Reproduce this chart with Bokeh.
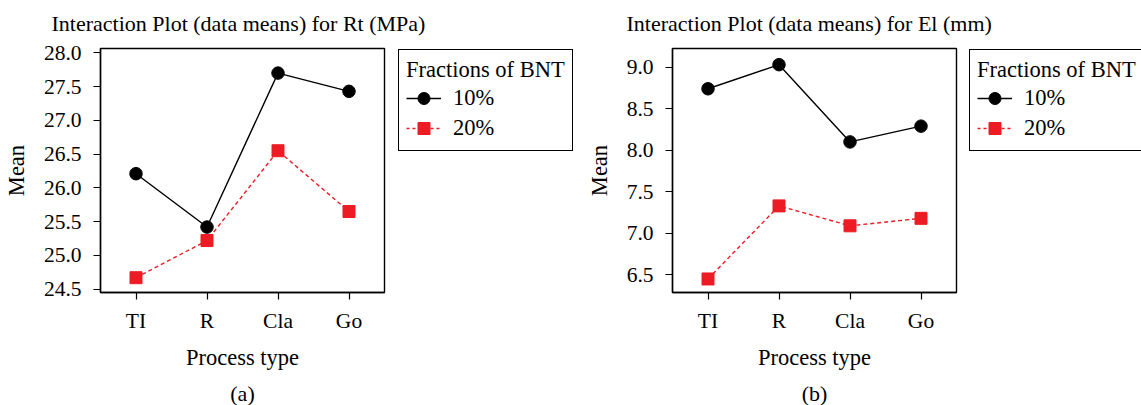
from bokeh.plotting import figure
from bokeh.layouts import row, column
from bokeh.models import (FactorRange, Range1d, FixedTicker, NumeralTickFormatter,
                          Legend, LegendItem, Label)
from bokeh.embed import file_html
from bokeh.resources import INLINE

# ---------------- data ----------------
process_types = ["TI", "R", "Cla", "Go"]
series_names = ["10%", "20%"]
legend_title = "Fractions of BNT"

rt_10 = [26.21, 25.42, 27.70, 27.43]
rt_20 = [24.67, 25.22, 26.55, 25.65]
el_10 = [8.74, 9.03, 8.10, 8.29]
el_20 = [6.45, 7.33, 7.09, 7.18]

rt_ticks = [24.5, 25.0, 25.5, 26.0, 26.5, 27.0, 27.5, 28.0]
el_ticks = [6.5, 7.0, 7.5, 8.0, 8.5, 9.0]

rt_title = "Interaction Plot (data means) for Rt (MPa)"
el_title = "Interaction Plot (data means) for El (mm)"
x_label = "Process type"
y_label = "Mean"
captions = ["(a)", "(b)"]

# ---------------- style ----------------
FONT = "Liberation Serif"
RED = "#ED1C24"
FRAME_W = 284
FRAME_H = 244
TITLE_H = 38
MID_H = 340
CAP_H = 405 - TITLE_H - MID_H
TXT = "22px"
LEG_TXT = "22.5px"


def blank_fig(width, height, top=0):
    f = figure(width=width, height=height, x_range=Range1d(0, 1), y_range=Range1d(0, 1),
               output_backend="svg", toolbar_location=None,
               min_border_left=0, min_border_right=0,
               min_border_top=top, min_border_bottom=0)
    f.axis.visible = False
    f.grid.visible = False
    f.outline_line_color = None
    f.background_fill_color = "white"
    f.border_fill_color = "white"
    return f


def text_fig(text, width, height, x, y, align):
    f = blank_fig(width, height)
    f.add_layout(Label(x=x, y=y, x_units="screen", y_units="screen", text=text,
                       text_align=align, text_baseline="alphabetic",
                       text_font=FONT, text_font_size=TXT, text_color="black"))
    return f


def make_chart(title, caption, s10, s20, ticks, yr, total_w, left, title_x, gap):
    main_w = left + FRAME_W + gap
    p = figure(width=main_w, height=MID_H,
               x_range=FactorRange(factors=process_types),
               y_range=Range1d(*yr),
               output_backend="svg", toolbar_location=None,
               min_border_left=left, min_border_right=gap,
               min_border_top=48 - TITLE_H, min_border_bottom=MID_H - (48 - TITLE_H) - FRAME_H)
    p.background_fill_color = "white"
    p.border_fill_color = "white"
    p.outline_line_color = "black"
    p.outline_line_width = 1.4
    p.xgrid.grid_line_color = None
    p.ygrid.grid_line_color = None

    for ax in (p.xaxis[0], p.yaxis[0]):
        ax.axis_line_color = "black"
        ax.axis_line_width = 1.4
        ax.major_tick_line_color = "black"
        ax.major_tick_line_width = 1.2
        ax.major_tick_out = 7
        ax.major_tick_in = 0
        ax.minor_tick_line_color = None
        ax.major_label_text_font = FONT
        ax.major_label_text_font_size = "21.5px"
        ax.major_label_text_color = "black"
        ax.axis_label_text_font = FONT
        ax.axis_label_text_font_size = "22.5px"
        ax.axis_label_text_font_style = "normal"
        ax.axis_label_text_color = "black"

    p.xaxis.axis_label = x_label
    p.xaxis.major_label_standoff = 9
    p.xaxis.axis_label_standoff = 9
    p.yaxis.axis_label = y_label
    p.yaxis.ticker = FixedTicker(ticks=ticks)
    p.yaxis.formatter = NumeralTickFormatter(format="0.0")
    p.yaxis.major_label_standoff = 12
    p.yaxis.axis_label_standoff = 12

    p.line(x=process_types, y=s10, line_color="black", line_width=1.4)
    p.scatter(x=process_types, y=s10, marker="circle", size=12.5,
              fill_color="black", line_color="black")
    p.line(x=process_types, y=s20, line_color=RED, line_width=1.4, line_dash="4 3")
    p.scatter(x=process_types, y=s20, marker="square", size=12,
              fill_color=RED, line_color=RED)

    # legend on its own canvas (series drawn out of view, only their keys show)
    lf = blank_fig(total_w - main_w, MID_H, top=48 - TITLE_H - 1)
    k1 = lf.line(x=s10, y=s10, line_color="black", line_width=1.4)
    k1m = lf.scatter(x=s10, y=s10, marker="circle", size=12.5, fill_color="black", line_color="black")
    k2 = lf.line(x=s20, y=s20, line_color=RED, line_width=1.4, line_dash="3 3")
    k2m = lf.scatter(x=s20, y=s20, marker="square", size=12, fill_color=RED, line_color=RED)
    legend = Legend(items=[LegendItem(label=series_names[0], renderers=[k1, k1m]),
                           LegendItem(label=series_names[1], renderers=[k2, k2m])],
                    title=legend_title, location="top_left",
                    padding=7, spacing=0, margin=1,
                    glyph_width=35, glyph_height=30, label_height=20,
                    label_standoff=12, title_standoff=0,
                    border_line_color="black", border_line_width=1.4, border_line_alpha=1.0,
                    background_fill_color="white", background_fill_alpha=1.0,
                    label_text_font=FONT, label_text_font_size=LEG_TXT,
                    label_text_color="black",
                    title_text_font=FONT, title_text_font_size=LEG_TXT,
                    title_text_font_style="normal", title_text_color="black")
    lf.add_layout(legend, "center")

    tf = text_fig(title, total_w, TITLE_H, title_x, TITLE_H - 30.7 + 8, "left")
    cf = text_fig(caption, total_w, CAP_H, left + FRAME_W / 2, 12, "center")
    return column(tf, row(p, lf, spacing=0), cf, spacing=0)


chart1 = make_chart(rt_title, captions[0], rt_10, rt_20, rt_ticks, (24.451, 28.064),
                    580, 100, 51, 13)
chart2 = make_chart(el_title, captions[1], el_10, el_20, el_ticks, (6.287, 9.225),
                    561, 92, 46, 12)

layout = row(chart1, chart2, spacing=0)
open("out.html", "w").write(file_html(layout, INLINE))
